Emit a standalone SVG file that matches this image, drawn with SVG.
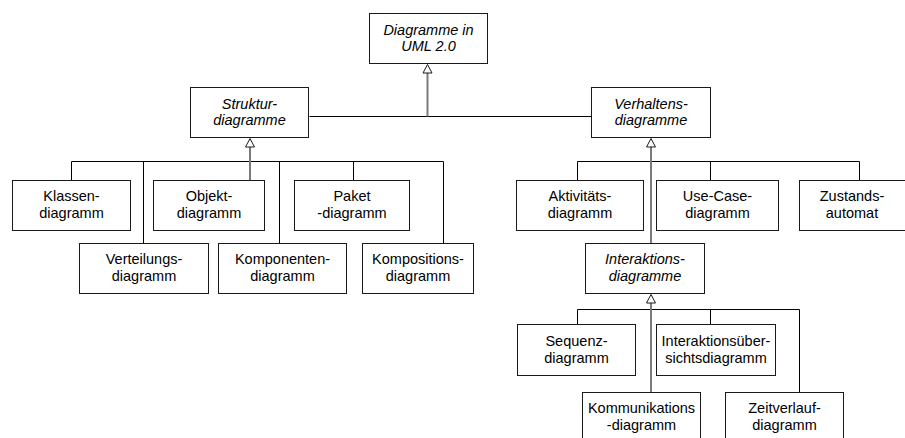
<svg xmlns="http://www.w3.org/2000/svg" width="905" height="438" viewBox="0 0 905 438">
<style>
  .box rect { fill: #ffffff; stroke: #1a1a1a; stroke-width: 1; }
  .box text { font-family: "Liberation Sans", Arial, sans-serif; font-size: 14.5px; fill: #000; text-anchor: middle; }
  .abs text { font-style: italic; }
  .bus { fill: none; stroke: #000; stroke-width: 1; }
  .shaft { fill: none; stroke: #7a7a7a; stroke-width: 2; }
  .tri { fill: #ffffff; stroke: #1a1a1a; stroke-width: 1; }
</style>
<rect x="0" y="0" width="905" height="438" fill="#ffffff"/>
<g id="connectors">
  <path class="bus" d="M309.5 116.5 H592.5"/>
  <path class="shaft" d="M427.5 116.5 V72"/>
  <path class="tri" d="M427.5 64.5 L432 73 L423 73 Z"/>
  <path class="bus" d="M71.5 180.5 V161.5 H443.5 V243.5 M143.5 161.5 V243.5 M279.5 161.5 V243.5 M353.5 161.5 V180.5"/>
  <path class="shaft" d="M250 180.5 V146"/>
  <path class="tri" d="M250 138.5 L254.5 147 L245.5 147 Z"/>
  <path class="bus" d="M577.5 180.5 V161.5 H859.5 V180.5 M710.5 161.5 V180.5"/>
  <path class="shaft" d="M651 243.5 V146"/>
  <path class="tri" d="M651 138.5 L655.5 147 L646.5 147 Z"/>
  <path class="bus" d="M577.5 324.5 V309.5 H799.5 V392.5 M710.5 309.5 V324.5"/>
  <path class="shaft" d="M651 392.5 V302"/>
  <path class="tri" d="M651 294.5 L655.5 303 L646.5 303 Z"/>
</g>
<g id="uml" class="box abs"><rect x="369.5" y="13.5" width="118" height="50"/><text x="428.5" y="34.5">Diagramme in</text><text x="428.5" y="51">UML 2.0</text></g>
<g id="struktur" class="box abs"><rect x="190.5" y="87.5" width="118" height="50"/><text x="249.5" y="108.5">Struktur-</text><text x="249.5" y="124.5">diagramme</text></g>
<g id="verhalten" class="box abs"><rect x="591.5" y="87.5" width="119" height="50"/><text x="651" y="108.5">Verhaltens-</text><text x="651" y="124.5">diagramme</text></g>
<g id="klassen" class="box"><rect x="12.5" y="180.5" width="118" height="50"/><text x="71.5" y="200.5">Klassen-</text><text x="71.5" y="217.5">diagramm</text></g>
<g id="verteilung" class="box"><rect x="79.5" y="243.5" width="129" height="50"/><text x="144" y="263.5">Verteilungs-</text><text x="144" y="280.5">diagramm</text></g>
<g id="objekt" class="box"><rect x="153.5" y="180.5" width="111" height="50"/><text x="209" y="200.5">Objekt-</text><text x="209" y="217.5">diagramm</text></g>
<g id="komponenten" class="box"><rect x="218.5" y="243.5" width="128" height="50"/><text x="282.5" y="263.5">Komponenten-</text><text x="282.5" y="280.5">diagramm</text></g>
<g id="paket" class="box"><rect x="294.5" y="180.5" width="115" height="50"/><text x="352" y="200.5">Paket</text><text x="352" y="217.5">-diagramm</text></g>
<g id="komposition" class="box"><rect x="362.5" y="243.5" width="111" height="50"/><text x="418" y="263.5">Kompositions-</text><text x="418" y="280.5">diagramm</text></g>
<g id="aktivitaet" class="box"><rect x="516.5" y="180.5" width="127" height="50"/><text x="580" y="200.5">Aktivitäts-</text><text x="580" y="217.5">diagramm</text></g>
<g id="usecase" class="box"><rect x="656.5" y="180.5" width="122" height="50"/><text x="717.5" y="200.5">Use-Case-</text><text x="717.5" y="217.5">diagramm</text></g>
<g id="zustand" class="box"><rect x="799.5" y="180.5" width="118" height="50"/><text x="852" y="200.5">Zustands-</text><text x="852" y="217.5">automat</text></g>
<g id="interaktion" class="box abs"><rect x="585.5" y="243.5" width="119" height="50"/><text x="645" y="264">Interaktions-</text><text x="645" y="280.5">diagramme</text></g>
<g id="sequenz" class="box"><rect x="517.5" y="324.5" width="118" height="51"/><text x="576.5" y="345.5">Sequenz-</text><text x="576.5" y="362.5">diagramm</text></g>
<g id="uebersicht" class="box"><rect x="656.5" y="324.5" width="119" height="51"/><text x="716" y="345.5">Interaktionsüber-</text><text x="716" y="362.5">sichtsdiagramm</text></g>
<g id="kommunikation" class="box"><rect x="582.5" y="392.5" width="118" height="50"/><text x="641.5" y="413">Kommunikations</text><text x="641.5" y="430">-diagramm</text></g>
<g id="zeitverlauf" class="box"><rect x="725.5" y="392.5" width="118" height="50"/><text x="784.5" y="413">Zeitverlauf-</text><text x="784.5" y="430">diagramm</text></g>
</svg>
